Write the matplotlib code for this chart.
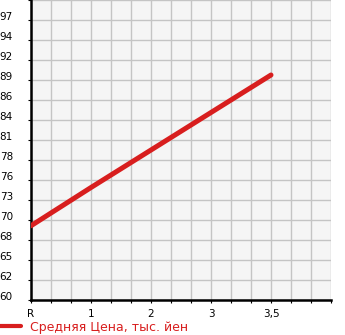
import matplotlib
matplotlib.use("Agg")
import matplotlib.pyplot as plt
from matplotlib.lines import Line2D
import numpy as np

# Data
categories = ["R", "1", "2", "3", "3,5"]
cat_positions = [0, 3, 6, 9, 12]
values = [69.9, 75.0, 80.0, 85.0, 90.0]
ytick_values = [60 + i * 40 / 15 for i in range(15)]
ytick_labels = ["60", "62", "65", "68", "70", "73", "76", "78", "81", "84", "86", "89", "92", "94", "97"]
series_label = "Средняя Цена, тыс. йен"

RED = "#d81e1e"
W, H = 345, 335
fig = plt.figure(figsize=(W / 100, H / 100), dpi=100)
ax = fig.add_axes([31 / W, (H - 300) / H, 300 / W, 300 / H])
ax.set_facecolor("#f5f5f5")

ax.plot(cat_positions, values, color=RED, lw=3.6, solid_capstyle="round", zorder=3)

ax.set_xlim(0, 15)
ax.set_ylim(60, 100)
ax.set_xticks(cat_positions)
ax.set_xticklabels(categories)
ax.set_xticks(np.arange(0, 16, 1), minor=True)
ax.set_yticks(ytick_values)
ax.set_yticklabels(ytick_labels)
ax.set_yticks(np.arange(60, 100.01, 40 / 15), minor=True)

ax.grid(True, which="both", color="#c4c4c4", lw=1.0, zorder=0)
ax.set_axisbelow(True)

for s in ["top", "right"]:
    ax.spines[s].set_visible(False)
for s in ["left", "bottom"]:
    ax.spines[s].set_color("black")
    ax.spines[s].set_linewidth(1.8)

ax.tick_params(axis="both", which="both", direction="out", length=2.5, width=0.8, color="black")
ax.tick_params(axis="x", labelsize=7.5, pad=4)
ax.tick_params(axis="y", labelsize=7.5, pad=20.0)
for lbl in ax.get_yticklabels():
    lbl.set_horizontalalignment("left")
    lbl.set_verticalalignment("baseline")

handle = Line2D([], [], color=RED, lw=3.0, solid_capstyle="round")
fig.legend([handle], [series_label], loc="lower left", bbox_to_anchor=(0.0, 0.004),
           bbox_transform=fig.transFigure, frameon=False, fontsize=9,
           labelcolor=RED, handlelength=1.7, handletextpad=0.72,
           borderpad=0.0, borderaxespad=0.0)

fig.savefig("out.png", dpi=100)
